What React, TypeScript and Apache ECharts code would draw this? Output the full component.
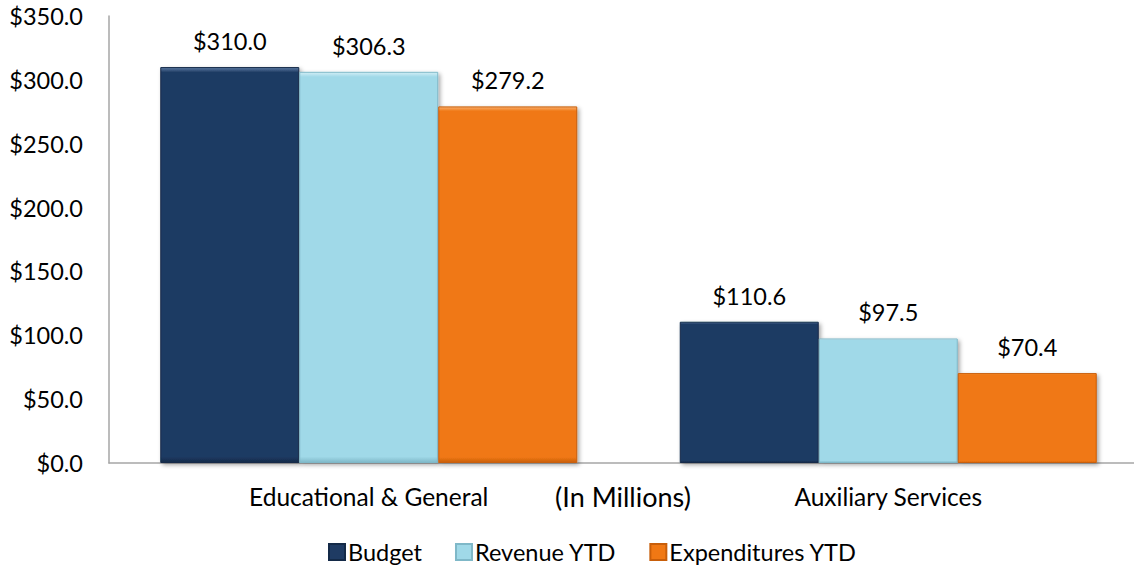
import React, { useEffect, useRef } from "react";
import * as echarts from "echarts";

const categories = ["Educational & General", "Auxiliary Services"];
const budget = [310.0, 110.6];
const revenueYTD = [306.3, 97.5];
const expendituresYTD = [279.2, 70.4];
const seriesNames = ["Budget", "Revenue YTD", "Expenditures YTD"];
const yTicks = { min: 0, max: 350, interval: 50 };
const axisNote = "(In Millions)";

const FONT = "Lato, 'Open Sans', sans-serif";

export default function App() {
  const ref = useRef<HTMLDivElement>(null);
  useEffect(() => {
    if (!ref.current) return;
    const chart = echarts.init(ref.current, null, { renderer: "svg" });
    const mk = (name: string, data: number[], color: string, border: string, light: string) => ({
      name,
      type: "bar",
      data,
      barWidth: 139,
      barGap: "0%",
      itemStyle: {
        color: {
          type: "linear",
          x: 0,
          y: 0,
          x2: 0,
          y2: 1,
          colorStops: [
            { offset: 0, color: light },
            { offset: 0.012, color: color },
            { offset: 0.985, color: color },
            { offset: 1, color: border },
          ],
        },
        borderColor: border,
        borderWidth: 1,
        shadowColor: "rgba(0,0,0,0.35)",
        shadowBlur: 4,
        shadowOffsetX: 2,
        shadowOffsetY: 2,
      },
      label: {
        show: true,
        position: "top",
        distance: 14,
        formatter: (p: any) => `$${Number(p.value).toFixed(1)}`,
        color: "#000",
        fontFamily: FONT,
        fontSize: 23.5,
      },
    });
    chart.setOption({
      animation: false,
      textStyle: { fontFamily: FONT },
      grid: {
        left: 109,
        width: 1039,
        top: 16,
        bottom: 104,
        containLabel: false,
        outerBoundsMode: "none",
      },
      legend: {
        top: 535,
        left: 323,
        padding: 5,
        icon: "rect",
        itemWidth: 16,
        itemHeight: 16,
        itemGap: 33,
        textStyle: { fontSize: 23.5, color: "#000", fontFamily: FONT, padding: [0, 0, 0, -2] },
        data: seriesNames,
      },
      xAxis: {
        type: "category",
        data: categories,
        axisLine: { show: true, lineStyle: { color: "#A6A6A6", width: 1.5 } },
        axisTick: { show: false },
        axisLabel: { color: "#000", fontSize: 24.5, margin: 21, fontFamily: FONT },
      },
      yAxis: {
        type: "value",
        min: yTicks.min,
        max: yTicks.max,
        interval: yTicks.interval,
        axisLine: { show: true, lineStyle: { color: "#A6A6A6", width: 1.5 } },
        axisTick: { show: false },
        splitLine: { show: false },
        axisLabel: {
          color: "#000",
          fontSize: 23.5,
          margin: 26,
          fontFamily: FONT,
          formatter: (v: number) => `$${v.toFixed(1)}`,
        },
      },
      graphic: [
        {
          type: "text",
          x: 623,
          y: 496,
          style: {
            text: axisNote,
            fontSize: 27,
            fontFamily: FONT,
            fill: "#000",
            textAlign: "center",
            textVerticalAlign: "middle",
          },
        },
      ],
      series: [
        mk(seriesNames[0], budget, "#1F3B63", "#142A48", "#5C7AA3"),
        mk(seriesNames[1], revenueYTD, "#A0D9E8", "#7FB8C8", "#D2EEF5"),
        mk(seriesNames[2], expendituresYTD, "#F07814", "#C85E0A", "#F9B070"),
      ],
    });
    return () => chart.dispose();
  }, []);
  return <div ref={ref} style={{ width: 1134, height: 567, position: "absolute", left: 0, top: 0 }} />;
}
